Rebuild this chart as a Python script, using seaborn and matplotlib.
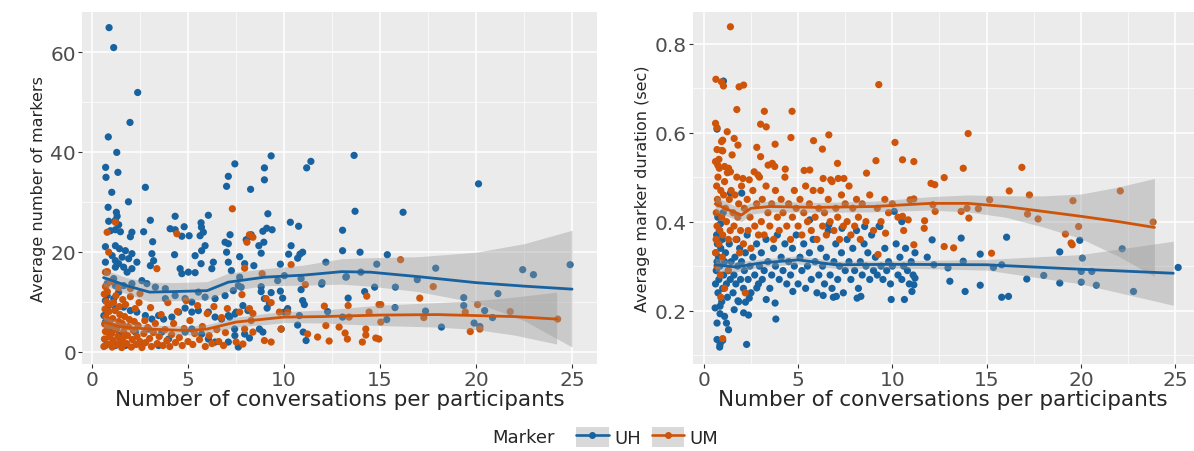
import matplotlib
matplotlib.use("Agg")
import matplotlib.pyplot as plt
from matplotlib.ticker import MultipleLocator
from matplotlib.patches import Patch
from matplotlib.lines import Line2D
import pandas as pd
import seaborn as sns

# ---- scatter data: (conversations, value) ----
uh_count = [
    (0.89, 64.9), (1.13, 60.9), (2.38, 51.9), (1.98, 45.9), (0.85, 43.0), (1.29, 39.9), (0.71, 36.9),
    (0.73, 34.9), (1.35, 35.9), (1.03, 31.9), (2.78, 32.9), (1.9, 30.0), (0.84, 28.9), (1.27, 27.9),
    (1.31, 27.1), (0.87, 26.1), (1.22, 26.3), (1.39, 25.4), (0.96, 24.2), (1.22, 24.4), (1.48, 24.0),
    (2.08, 23.9), (2.69, 24.0), (3.04, 26.3), (2.0, 23.0), (4.33, 27.1), (4.07, 24.6), (4.33, 24.4),
    (4.8, 25.0), (5.06, 23.2), (5.68, 25.8), (6.06, 27.3), (5.7, 24.9), (3.16, 22.0), (0.7, 21.0),
    (1.22, 21.2), (1.43, 20.6), (1.74, 20.2), (2.08, 19.6), (1.57, 18.9), (1.91, 18.6), (1.05, 19.2),
    (1.22, 18.2), (1.39, 17.6), (1.65, 16.9), (1.83, 15.9), (2.08, 16.6), (2.34, 17.9), (3.12, 19.6),
    (3.21, 18.2), (3.04, 17.2), (4.3, 19.4), (4.68, 23.1), (5.63, 23.2), (5.8, 23.9), (5.71, 20.2),
    (5.89, 21.2), (5.37, 19.2), (4.59, 16.6), (4.68, 15.6), (5.02, 15.9), (5.37, 15.8), (5.68, 17.6),
    (6.32, 17.9), (6.24, 16.6), (6.93, 21.9), (7.1, 21.6), (7.19, 23.4), (7.01, 19.9), (7.1, 17.9),
    (7.44, 37.6), (7.1, 35.1), (7.01, 33.1), (0.7, 17.9), (0.79, 15.9), (1.22, 16.9), (1.13, 14.6),
    (0.79, 13.6), (1.22, 13.2), (1.65, 13.2), (2.08, 13.6), (2.6, 14.2), (2.86, 13.6), (0.79, 11.2),
    (1.13, 10.6), (1.39, 11.9), (0.7, 10.2), (0.87, 9.2), (1.22, 8.6), (1.65, 8.9), (2.0, 8.2),
    (2.34, 7.9), (2.78, 7.2), (3.12, 6.5), (3.47, 7.2), (3.73, 6.5), (4.16, 6.9), (4.51, 7.9),
    (4.85, 8.7), (5.2, 7.9), (5.54, 8.2), (6.06, 7.9), (6.41, 6.9), (6.75, 6.5), (7.1, 7.2),
    (7.44, 7.5), (0.62, 7.2), (0.7, 5.9), (1.05, 4.5), (1.39, 3.2), (1.22, 1.2), (0.7, 1.2),
    (1.74, 1.2), (2.6, 1.2), (3.47, 1.2), (2.26, 3.9), (2.95, 4.5), (3.64, 3.9), (3.99, 2.5),
    (4.85, 3.9), (5.2, 4.5), (5.71, 3.5), (6.06, 2.5), (6.41, 1.9), (7.1, 1.9), (7.44, 3.2),
    (7.62, 0.9), (3.82, 10.6), (4.33, 11.2), (4.85, 10.6), (5.2, 9.9), (5.54, 11.9), (5.89, 10.9),
    (6.41, 10.6), (6.93, 11.2), (7.36, 12.2), (7.62, 13.2), (3.3, 12.9), (3.82, 12.6),
    (9.33, 39.2), (8.98, 36.8), (11.4, 38.1), (11.18, 36.8), (13.65, 39.3), (8.98, 34.4), (8.26, 32.5),
    (13.7, 28.1), (9.16, 27.6), (10.33, 25.9), (10.76, 25.1), (8.9, 24.1), (9.1, 24.7), (9.38, 24.4),
    (8.29, 23.4), (8.03, 22.4), (8.2, 23.0), (8.95, 21.9), (8.69, 21.2), (10.37, 21.2), (13.05, 24.3),
    (8.81, 19.7), (10.24, 19.5), (10.83, 19.5), (10.97, 19.9), (13.05, 20.2), (13.96, 19.9),
    (15.38, 19.4), (7.69, 19.0), (7.95, 17.6), (7.26, 16.2), (9.81, 17.5), (10.71, 18.7), (8.43, 17.2),
    (12.18, 17.9), (14.83, 17.5), (14.0, 15.9), (10.02, 15.2), (9.67, 14.2), (10.89, 14.6),
    (11.98, 13.8), (13.22, 14.9), (7.69, 14.9), (7.77, 12.9), (8.81, 13.0), (8.81, 12.0), (9.33, 11.8),
    (9.81, 12.1), (10.89, 12.4), (14.2, 12.0), (14.72, 12.9), (8.98, 10.6), (9.93, 10.7),
    (10.97, 10.2), (11.06, 9.4), (13.34, 10.7), (12.27, 8.0), (9.24, 9.7), (9.12, 8.7), (10.19, 8.6),
    (10.02, 7.9), (10.8, 7.2), (7.86, 9.2), (8.12, 8.2), (7.51, 7.9), (7.17, 6.9), (7.43, 4.5),
    (7.95, 3.5), (8.2, 2.7), (8.72, 4.5), (8.9, 3.9), (9.85, 4.5), (10.71, 5.3), (11.0, 3.9),
    (11.15, 2.2), (13.05, 6.9), (15.35, 6.4), (13.25, 15.0), (11.96, 13.5),
    (16.2, 27.9), (20.13, 33.6), (17.9, 16.7), (22.43, 16.4), (22.99, 15.4), (24.9, 17.4),
    (16.94, 14.4), (15.8, 12.9), (21.14, 11.6), (19.36, 10.8), (19.36, 9.2), (20.45, 8.2),
    (17.37, 8.1), (15.78, 8.8), (20.86, 6.8), (18.2, 4.9), (19.9, 5.7), (20.2, 5.0),
]

um_count = [
    (7.31, 28.6), (0.79, 23.9), (1.22, 25.9), (4.42, 23.6), (0.87, 19.9), (0.7, 15.9), (3.38, 16.6),
    (8.2, 23.4), (8.38, 22.9), (8.07, 21.9), (10.37, 17.4), (7.95, 16.7), (8.86, 15.6), (11.11, 13.4),
    (7.81, 11.4), (9.07, 10.6), (9.33, 9.8), (12.1, 9.1), (13.34, 9.2), (14.31, 11.1), (14.95, 9.4),
    (7.69, 7.9), (8.2, 8.6), (8.38, 7.6), (9.76, 7.9), (10.19, 7.9), (8.29, 6.2), (7.95, 4.5),
    (8.38, 3.9), (7.51, 1.9), (7.86, 1.5), (8.98, 2.2), (9.33, 1.9), (9.85, 4.5), (11.23, 3.5),
    (11.75, 2.9), (12.35, 2.1), (12.18, 5.2), (12.87, 4.9), (13.18, 3.7), (13.3, 2.5), (14.26, 4.5),
    (14.26, 3.3), (14.08, 1.9), (14.78, 2.7), (13.39, 6.9), (14.43, 7.9), (16.07, 18.4),
    (17.77, 13.0), (17.07, 10.7), (15.04, 9.4), (15.04, 5.9), (14.94, 2.5), (17.28, 6.8),
    (20.08, 9.4), (19.44, 7.9), (21.78, 8.0), (19.7, 4.0), (20.2, 4.5), (24.25, 6.5),
    (0.62, 1.0), (0.65, 2.5), (0.7, 4.0), (0.66, 5.5), (0.72, 7.0), (0.68, 8.5), (0.75, 10.0),
    (0.64, 11.5), (0.7, 13.0), (0.8, 16.0), (0.85, 1.5), (0.9, 3.0), (0.82, 4.8), (0.95, 6.2),
    (0.88, 8.0), (0.92, 9.5), (0.8, 12.0), (0.97, 14.0), (1.05, 0.9), (1.1, 2.2), (1.02, 3.6),
    (1.15, 5.0), (1.08, 6.6), (1.2, 8.2), (1.12, 9.8), (1.25, 11.2), (1.3, 1.4), (1.35, 3.0),
    (1.28, 4.4), (1.4, 6.0), (1.45, 7.4), (1.38, 12.8), (1.48, 2.0), (1.42, 9.0), (1.55, 0.8),
    (1.6, 2.6), (1.65, 4.0), (1.58, 5.6), (1.7, 7.0), (1.75, 9.4), (1.8, 1.6), (1.85, 3.2),
    (1.9, 5.0), (1.95, 6.4), (2.0, 11.0), (2.05, 0.9), (2.1, 2.4), (2.15, 4.2), (2.2, 6.0),
    (2.25, 8.6), (2.3, 1.4), (2.35, 3.0), (2.4, 5.2), (2.45, 9.8), (2.5, 2.0), (2.0, 12.6),
    (2.5, 11.6), (1.6, 10.4), (2.6, 0.8), (2.7, 3.6), (2.75, 6.2), (2.8, 1.8), (2.9, 4.8),
    (3.0, 2.6), (3.05, 8.8), (3.1, 1.0), (3.2, 3.8), (3.3, 5.6), (3.4, 1.6), (3.5, 3.0),
    (3.6, 7.4), (3.7, 1.2), (3.8, 4.4), (3.9, 2.2), (3.95, 9.8), (4.05, 1.0), (4.15, 3.4),
    (4.25, 5.6), (4.35, 1.8), (4.45, 8.0), (4.55, 2.8), (4.7, 1.2), (4.8, 4.6), (4.9, 10.2),
    (5.0, 2.0), (5.1, 6.2), (5.25, 1.4), (5.35, 3.6), (5.5, 9.2), (5.6, 2.4), (5.75, 5.0),
    (5.9, 1.0), (6.0, 7.6), (6.1, 3.2), (6.25, 1.6), (6.35, 9.0), (6.5, 4.4), (6.6, 2.0),
    (6.75, 6.8), (6.85, 1.2), (6.95, 3.8), (7.05, 8.6),
]

uh_dur = [
    (1.04, 0.716), (0.7, 0.608), (2.01, 0.464), (1.41, 0.464), (16.06, 0.365), (13.65, 0.363),
    (12.11, 0.359), (14.66, 0.327), (18.88, 0.332), (19.94, 0.358), (20.08, 0.318), (22.19, 0.339),
    (25.16, 0.297), (15.8, 0.303), (15.36, 0.297), (13.76, 0.311), (12.95, 0.296), (12.2, 0.303),
    (11.85, 0.32), (17.13, 0.271), (18.03, 0.279), (18.88, 0.262), (20.02, 0.264), (20.02, 0.288),
    (20.58, 0.288), (20.82, 0.257), (22.79, 0.243), (13.05, 0.266), (13.86, 0.243), (14.66, 0.257),
    (15.8, 0.23), (16.16, 0.232), (9.94, 0.225), (10.64, 0.225), (11.04, 0.243), (11.14, 0.258),
    (11.2, 0.273), (8.13, 0.228), (8.33, 0.232), (6.87, 0.23), (7.03, 0.232), (6.33, 0.234),
    (4.72, 0.243), (3.82, 0.181), (3.78, 0.217), (3.31, 0.225), (2.27, 0.124), (2.11, 0.195),
    (2.37, 0.19), (1.2, 0.172), (1.31, 0.157), (0.86, 0.124), (1.0, 0.133), (0.7, 0.135),
    (0.84, 0.118), (0.7, 0.172), (0.86, 0.193), (1.1, 0.187), (0.6, 0.206), (0.86, 0.21),
    (1.61, 0.202), (1.81, 0.222), (2.21, 0.219), (2.41, 0.228), (2.81, 0.251),
    (10.1, 0.423), (10.5, 0.4), (5.62, 0.404), (6.63, 0.393), (7.33, 0.385), (8.53, 0.389),
    (9.34, 0.389),
    (0.62, 0.26), (0.66, 0.29), (0.7, 0.31), (0.64, 0.33), (0.72, 0.35), (0.68, 0.37), (0.75, 0.24),
    (0.8, 0.27), (0.85, 0.3), (0.78, 0.32), (0.9, 0.34), (0.82, 0.38), (0.95, 0.22), (1.0, 0.25),
    (1.05, 0.28), (1.1, 0.31), (0.98, 0.36), (1.15, 0.33), (1.2, 0.26), (1.25, 0.23), (1.3, 0.29),
    (1.35, 0.35), (1.4, 0.27), (1.45, 0.31), (0.88, 0.395), (1.02, 0.42), (0.74, 0.41),
    (1.55, 0.24), (1.6, 0.28), (1.65, 0.32), (1.7, 0.26), (1.75, 0.36), (1.8, 0.3), (1.85, 0.22),
    (1.9, 0.34), (1.95, 0.27), (2.0, 0.31), (2.1, 0.25), (2.15, 0.29), (2.2, 0.33), (2.3, 0.37),
    (2.35, 0.27), (2.45, 0.3), (2.5, 0.24), (2.6, 0.32), (2.7, 0.28), (2.8, 0.35), (2.9, 0.26),
    (2.95, 0.3), (3.05, 0.33), (3.1, 0.27), (3.2, 0.29), (3.3, 0.36), (3.4, 0.31), (3.5, 0.25),
    (3.6, 0.28), (3.7, 0.34), (3.8, 0.3), (3.9, 0.37), (4.0, 0.27), (4.1, 0.32), (4.2, 0.29),
    (4.3, 0.35), (4.4, 0.26), (4.5, 0.31), (4.6, 0.28), (4.7, 0.34), (4.8, 0.3), (4.9, 0.37),
    (5.0, 0.26), (5.1, 0.32), (5.2, 0.29), (5.3, 0.35), (5.4, 0.25), (5.5, 0.3), (5.6, 0.33),
    (5.7, 0.27), (5.8, 0.36), (5.9, 0.31), (6.0, 0.24), (6.1, 0.28), (6.2, 0.34), (6.3, 0.3),
    (6.4, 0.26), (6.5, 0.32), (6.6, 0.38), (6.7, 0.28), (6.8, 0.25), (6.9, 0.31), (7.0, 0.35),
    (7.1, 0.27), (7.2, 0.3), (7.3, 0.33), (7.4, 0.24), (7.5, 0.29), (7.6, 0.36), (7.7, 0.31),
    (7.8, 0.27), (7.9, 0.34), (8.0, 0.29), (8.1, 0.38), (8.2, 0.25), (8.3, 0.31), (8.4, 0.28),
    (8.5, 0.35), (8.6, 0.3), (8.7, 0.33), (8.8, 0.27), (8.9, 0.37), (9.0, 0.29), (9.1, 0.32),
    (9.2, 0.28), (9.3, 0.39), (9.4, 0.3), (9.5, 0.27), (9.6, 0.34), (9.7, 0.29), (9.8, 0.31),
    (9.9, 0.26), (10.0, 0.3), (10.2, 0.35), (10.3, 0.28), (10.4, 0.32), (10.5, 0.27), (10.6, 0.3),
    (10.7, 0.34), (10.8, 0.29), (10.9, 0.26), (11.0, 0.31), (11.1, 0.28), (11.2, 0.33),
]

um_dur = [
    (1.41, 0.838), (0.64, 0.72), (0.94, 0.714), (1.04, 0.705), (1.87, 0.703), (2.11, 0.707),
    (1.75, 0.652), (3.21, 0.648), (4.68, 0.648), (9.28, 0.708), (0.62, 0.621), (0.7, 0.611),
    (1.24, 0.602), (1.0, 0.583), (0.94, 0.58), (1.61, 0.587), (1.81, 0.572), (3.01, 0.619),
    (3.31, 0.613), (2.81, 0.567), (3.78, 0.574), (4.62, 0.589), (5.82, 0.582), (6.29, 0.563),
    (6.63, 0.595), (10.14, 0.578), (14.02, 0.598), (0.7, 0.562), (1.0, 0.559), (0.62, 0.535),
    (0.74, 0.527), (1.1, 0.524), (1.31, 0.52), (1.41, 0.512), (2.07, 0.497), (2.41, 0.494),
    (3.01, 0.546), (3.41, 0.527), (3.76, 0.524), (2.67, 0.512), (2.87, 0.505), (4.32, 0.518),
    (3.63, 0.531), (7.09, 0.531), (5.32, 0.515), (5.62, 0.516), (6.33, 0.497), (6.73, 0.494),
    (7.13, 0.497), (7.43, 0.497), (8.63, 0.509), (9.13, 0.537), (10.54, 0.539), (11.14, 0.535),
    (13.76, 0.52), (12.75, 0.499), (16.87, 0.522), (17.27, 0.46), (17.17, 0.417), (17.73, 0.406),
    (22.09, 0.469), (16.2, 0.469), (15.16, 0.449), (19.58, 0.447), (12.05, 0.486), (12.25, 0.483),
    (12.15, 0.438), (12.27, 0.423), (11.71, 0.402), (11.69, 0.385), (13.96, 0.43), (13.65, 0.423),
    (14.06, 0.408), (14.56, 0.429), (12.75, 0.344), (13.25, 0.341), (15.26, 0.329), (19.18, 0.372),
    (19.48, 0.352), (19.54, 0.348), (19.88, 0.389), (23.83, 0.399), (9.64, 0.374), (9.24, 0.326),
    (11.14, 0.348), (10.54, 0.412), (10.84, 0.404), (10.94, 0.449), (11.14, 0.451),
    (0.62, 0.33), (0.65, 0.36), (0.7, 0.39), (0.66, 0.42), (0.72, 0.45), (0.68, 0.48), (0.75, 0.5),
    (0.8, 0.35), (0.85, 0.38), (0.78, 0.44), (0.9, 0.47), (0.82, 0.52), (0.95, 0.41), (1.0, 0.37),
    (1.05, 0.46), (1.1, 0.49), (0.98, 0.32), (1.15, 0.43), (1.2, 0.4), (1.25, 0.51), (1.3, 0.36),
    (1.35, 0.45), (1.4, 0.38), (1.45, 0.47), (0.7, 0.3), (0.88, 0.28), (1.1, 0.25), (0.95, 0.56),
    (0.8, 0.54), (1.0, 0.137), (0.9, 0.23), (1.3, 0.29), (1.5, 0.55), (1.55, 0.42), (1.6, 0.39),
    (1.65, 0.46), (1.7, 0.36), (1.75, 0.5), (1.8, 0.41), (1.85, 0.44), (1.9, 0.33), (1.95, 0.38),
    (2.0, 0.48), (2.1, 0.35), (2.15, 0.43), (2.2, 0.24), (2.3, 0.45), (2.35, 0.38), (2.45, 0.41),
    (2.5, 0.34), (2.6, 0.47), (2.7, 0.39), (2.8, 0.44), (2.9, 0.37), (2.95, 0.5), (3.05, 0.4),
    (3.1, 0.45), (3.2, 0.37), (3.3, 0.48), (3.4, 0.42), (3.5, 0.39), (3.6, 0.44), (3.7, 0.36),
    (3.8, 0.47), (3.9, 0.41), (4.0, 0.38), (4.1, 0.45), (4.2, 0.42), (4.3, 0.5), (4.4, 0.39),
    (4.5, 0.44), (4.6, 0.36), (4.7, 0.41), (4.8, 0.47), (4.9, 0.43), (5.0, 0.39), (5.1, 0.45),
    (5.2, 0.37), (5.3, 0.42), (5.4, 0.48), (5.5, 0.4), (5.6, 0.44), (5.7, 0.38), (5.8, 0.47),
    (5.9, 0.41), (6.0, 0.36), (6.1, 0.43), (6.2, 0.47), (6.3, 0.39), (6.4, 0.42), (6.5, 0.37),
    (6.6, 0.45), (6.7, 0.4), (6.8, 0.49), (6.9, 0.38), (7.0, 0.43), (7.1, 0.41), (7.2, 0.36),
    (7.3, 0.46), (7.4, 0.39), (7.5, 0.44), (7.6, 0.4), (7.7, 0.48), (7.8, 0.37), (7.9, 0.43),
    (8.0, 0.39), (8.1, 0.45), (8.2, 0.41), (8.3, 0.36), (8.4, 0.44), (8.6, 0.4), (8.8, 0.46),
    (9.0, 0.38), (9.2, 0.43), (9.4, 0.4), (9.6, 0.45), (9.8, 0.42), (10.0, 0.44), (10.3, 0.41),
    (10.6, 0.38),
]

# ---- smoothed fits (loess) ----
uh_count_fx = [0.6, 1.0, 1.8, 3.0, 4.2, 6.0, 7.1, 9.0, 11.0, 13.0, 14.5, 17.0, 20.0, 22.5, 25.0]
uh_count_fit = [14.8, 14.3, 13.2, 11.9, 12.0, 12.2, 13.9, 14.9, 15.3, 16.0, 15.9, 15.0, 13.8, 13.1, 12.5]
uh_count_hi = [16.6, 15.9, 14.8, 13.9, 13.8, 14.0, 15.7, 16.6, 17.3, 18.6, 18.8, 19.0, 19.9, 21.6, 24.3]
uh_count_lo = [13.0, 12.7, 11.6, 10.0, 10.2, 10.4, 12.1, 13.2, 13.3, 13.5, 13.1, 12.0, 9.8, 6.2, 0.9]

um_count_fx = [0.6, 1.5, 3.0, 5.0, 6.0, 7.5, 9.0, 10.0, 12.0, 15.0, 18.0, 20.0, 22.0, 24.2]
um_count_fit = [5.9, 4.9, 4.5, 4.2, 4.5, 5.9, 6.5, 6.9, 7.0, 7.3, 7.4, 7.2, 7.0, 6.5]
um_count_hi = [7.0, 5.8, 5.3, 5.1, 5.4, 6.9, 7.6, 8.0, 8.3, 9.3, 9.8, 10.2, 10.9, 11.9]
um_count_lo = [4.8, 4.0, 3.7, 3.3, 3.6, 4.9, 5.4, 5.8, 5.7, 5.2, 4.9, 4.4, 3.3, 1.5]

uh_dur_fx = [0.6, 1.7, 3.0, 5.0, 7.0, 10.0, 15.0, 20.0, 24.9]
uh_dur_fit = [0.303, 0.298, 0.307, 0.314, 0.303, 0.304, 0.303, 0.293, 0.284]
uh_dur_hi = [0.318, 0.309, 0.316, 0.323, 0.311, 0.312, 0.315, 0.326, 0.356]
uh_dur_lo = [0.288, 0.287, 0.298, 0.305, 0.295, 0.296, 0.291, 0.260, 0.212]

um_dur_fx = [0.6, 1.5, 2.0, 2.5, 3.5, 6.0, 9.0, 12.0, 14.0, 16.0, 18.0, 20.0, 22.0, 23.9]
um_dur_fit = [0.440, 0.423, 0.415, 0.430, 0.434, 0.432, 0.434, 0.441, 0.441, 0.434, 0.423, 0.412, 0.400, 0.387]
um_dur_hi = [0.458, 0.438, 0.430, 0.443, 0.446, 0.443, 0.446, 0.456, 0.460, 0.458, 0.458, 0.462, 0.478, 0.497]
um_dur_lo = [0.422, 0.408, 0.400, 0.417, 0.422, 0.421, 0.422, 0.426, 0.422, 0.410, 0.388, 0.362, 0.322, 0.277]

markers = ['UH', 'UM']
colors = {'UH': '#17629F', 'UM': '#CE5409'}

sns.set_theme(style="darkgrid")
plt.rcParams['font.family'] = ['DejaVu Sans']
plt.rcParams.update({
    'axes.facecolor': '#EBEBEB',
    'grid.color': 'white',
    'xtick.color': '#333333',
    'ytick.color': '#333333',
    'xtick.labelcolor': '#4D4D4D',
    'ytick.labelcolor': '#4D4D4D',
})


def to_frame(pairs, name):
    df = pd.DataFrame(pairs, columns=['conv', 'val'])
    df['Marker'] = name
    return df


def draw_panel(ax, uh_pts, um_pts, fits):
    data = pd.concat([to_frame(uh_pts, 'UH'), to_frame(um_pts, 'UM')], ignore_index=True)
    sns.scatterplot(data=data, x='conv', y='val', hue='Marker', palette=colors,
                    s=27, linewidth=0, alpha=1, legend=False, ax=ax, zorder=2)
    for name, (fx, fit, lo, hi) in zip(markers, fits):
        ax.fill_between(fx, lo, hi, color='#999999', alpha=0.4, linewidth=0, zorder=3)
        sns.lineplot(x=fx, y=fit, color=colors[name], linewidth=2.0, ax=ax, zorder=4)
    ax.grid(True, which='major', color='white', linewidth=1.1)
    ax.grid(True, which='minor', color='white', linewidth=0.5)
    ax.set_axisbelow(True)
    for s in ax.spines.values():
        s.set_visible(False)
    ax.tick_params(which='major', length=3, width=0.8, labelsize=14.5, pad=1.5,
                   bottom=True, left=True)
    ax.tick_params(which='minor', length=0)
    ax.set_xlabel('Number of conversations per participants', fontsize=15.5, labelpad=0)


fig = plt.figure(figsize=(11.94, 4.52), dpi=100)
ax1 = fig.add_axes([0.069, 0.1925, 0.431, 0.7795])
ax2 = fig.add_axes([0.580, 0.1925, 0.420, 0.7795])

draw_panel(ax1, uh_count, um_count,
           [(uh_count_fx, uh_count_fit, uh_count_lo, uh_count_hi),
            (um_count_fx, um_count_fit, um_count_lo, um_count_hi)])
ax1.set_xlim(-0.5, 26.3)
ax1.set_ylim(-2.5, 68.1)
ax1.xaxis.set_major_locator(MultipleLocator(5))
ax1.xaxis.set_minor_locator(MultipleLocator(2.5))
ax1.yaxis.set_major_locator(MultipleLocator(20))
ax1.yaxis.set_minor_locator(MultipleLocator(10))
ax1.set_ylabel('Average number of markers', fontsize=11.5, labelpad=3)

draw_panel(ax2, uh_dur, um_dur,
           [(uh_dur_fx, uh_dur_fit, uh_dur_lo, uh_dur_hi),
            (um_dur_fx, um_dur_fit, um_dur_lo, um_dur_hi)])
ax2.set_xlim(-0.6, 26.0)
ax2.set_ylim(0.08, 0.872)
ax2.xaxis.set_major_locator(MultipleLocator(5))
ax2.xaxis.set_minor_locator(MultipleLocator(2.5))
ax2.yaxis.set_major_locator(MultipleLocator(0.2))
ax2.yaxis.set_minor_locator(MultipleLocator(0.1))
ax2.set_ylabel('Average marker duration (sec)', fontsize=11.5, labelpad=3)

# legend at the bottom, title on the left like ggplot
handles = [(Patch(facecolor='#D9D9D9', edgecolor='none'),
            Line2D([], [], color=colors[m], marker='o', markersize=4, linewidth=1.9))
           for m in markers]
fig.text(0.465, 0.031, 'Marker', fontsize=13, ha='right', va='center')
fig.legend(handles, markers, ncol=2, loc='center left', bbox_to_anchor=(0.475, 0.031),
           frameon=False, fontsize=13, handlelength=1.8, handleheight=1.3,
           handletextpad=0.3, columnspacing=0.6, borderpad=0)

fig.savefig('out.png', dpi=100, facecolor='white')
